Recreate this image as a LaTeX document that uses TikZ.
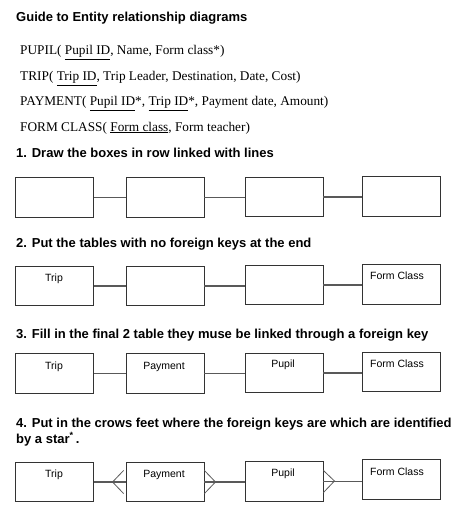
\documentclass[tikz,border=0pt]{standalone}
\usepackage{fontspec}
\setmainfont{Liberation Serif}
\newfontfamily\arialf{Liberation Sans}
\begin{document}
\begin{tikzpicture}[x=1pt,y=-1pt,
  head/.style={anchor=base west, inner sep=0pt, font=\arialf\bfseries\fontsize{13}{15}\selectfont},
  rel/.style={anchor=base west, inner sep=0pt, font=\fontsize{13.3}{15}\selectfont},
  tbl/.style={draw=black!80, line width=0.9pt, minimum width=78pt, minimum height=39.5pt, inner sep=0pt},
  lbl/.style={anchor=base, inner sep=0pt, font=\arialf\fontsize{10.5}{12}\selectfont},
  link/.style={draw=black!65, line width=1.1pt}]
\useasboundingbox (0,0) rectangle (474,511);
% title and relations
\node[head] (title) at (16,22) {Guide to Entity relationship diagrams};
\node[rel] (r1) at (20,55) {PUPIL( \underline{Pupil ID}, Name, Form class*)};
\node[rel] (r2) at (20,80.5) {TRIP( \underline{Trip ID}, Trip Leader, Destination, Date, Cost)};
\node[rel] (r3) at (20,105.5) {PAYMENT( \underline{Pupil ID}*, \underline{Trip ID}*, Payment date, Amount)};
\node[rel] (r4) at (20,131) {FORM CLASS( \underline{Form class}, Form teacher)};
% step 1
\node[head] (h1) at (16,157) {1. Draw the boxes in row linked with lines};
\node[tbl] (a1) at (54.5,197.5) {};
\node[tbl] (a2) at (165,197.5) {};
\node[tbl] (a3) at (284,197) {};
\node[tbl] (a4) at (401,196.3) {};
\draw[link] (a1.east) -- (a1.east -| a2.west);
\draw[link] (a2.east) -- (a2.east -| a3.west);
\draw[link] (a3.east) -- (a3.east -| a4.west);
% step 2
\node[head] (h2) at (16,247) {2. Put the tables with no foreign keys at the end};
\node[tbl] (b1) at (54.5,286) {};
\node[tbl] (b2) at (165,286) {};
\node[tbl] (b3) at (284,285) {};
\node[tbl] (b4) at (401,284.2) {};
\node[lbl] (b1t) at (54,281) {Trip};
\node[lbl] (b4t) at (397,279) {Form Class};
\draw[link] (b1.east) -- (b1.east -| b2.west);
\draw[link] (b2.east) -- (b2.east -| b3.west);
\draw[link] (b3.east) -- (b3.east -| b4.west);
% step 3
\node[head] (h3) at (16,338) {3. Fill in the final 2 table they muse be linked through a foreign key};
\node[tbl] (c1) at (54.5,373.5) {};
\node[tbl] (c2) at (165,373.5) {};
\node[tbl] (c3) at (284,373) {};
\node[tbl] (c4) at (401,372) {};
\node[lbl] (c1t) at (54,369) {Trip};
\node[lbl] (c2t) at (164,369) {Payment};
\node[lbl] (c3t) at (283,367) {Pupil};
\node[lbl] (c4t) at (397,367) {Form Class};
\draw[link] (c1.east) -- (c1.east -| c2.west);
\draw[link] (c2.east) -- (c2.east -| c3.west);
\draw[link] (c3.east) -- (c3.east -| c4.west);
% step 4
\node[head] (h4a) at (16,427) {4. Put in the crows feet where the foreign keys are which are identified};
\node[head] (h4b) at (16,443) {by a star\textsuperscript{*}\,.};
\node[tbl] (d1) at (54.5,482) {};
\node[tbl] (d2) at (165,482) {};
\node[tbl] (d3) at (284,481.5) {};
\node[tbl] (d4) at (401,479.5) {};
\node[lbl] (d1t) at (54,477) {Trip};
\node[lbl] (d2t) at (164,477) {Payment};
\node[lbl] (d3t) at (283,476) {Pupil};
\node[lbl] (d4t) at (397,475) {Form Class};
\draw[link] (d1.east) -- (d1.east -| d2.west);
\draw[link] (d2.east) -- (d2.east -| d3.west);
\draw[link] (d3.east) -- (d3.east -| d4.west);
% crows feet
\coordinate (f1) at ([xshift=-13pt]d2.west);
\draw[link, line width=0.8pt] ([xshift=-2pt,yshift=-11.5pt]d2.west) -- (f1) -- ([xshift=-2pt,yshift=11.5pt]d2.west);
\coordinate (f2) at ([xshift=11pt]d2.east);
\draw[link, line width=0.8pt] ([yshift=-11.5pt]d2.east) -- (f2) -- ([yshift=11.5pt]d2.east);
\coordinate (f3) at ([xshift=11pt,yshift=0.5pt]d3.east);
\draw[link, line width=0.8pt] ([yshift=-11pt]d3.east) -- (f3) -- ([yshift=11pt]d3.east);
\end{tikzpicture}
\end{document}
